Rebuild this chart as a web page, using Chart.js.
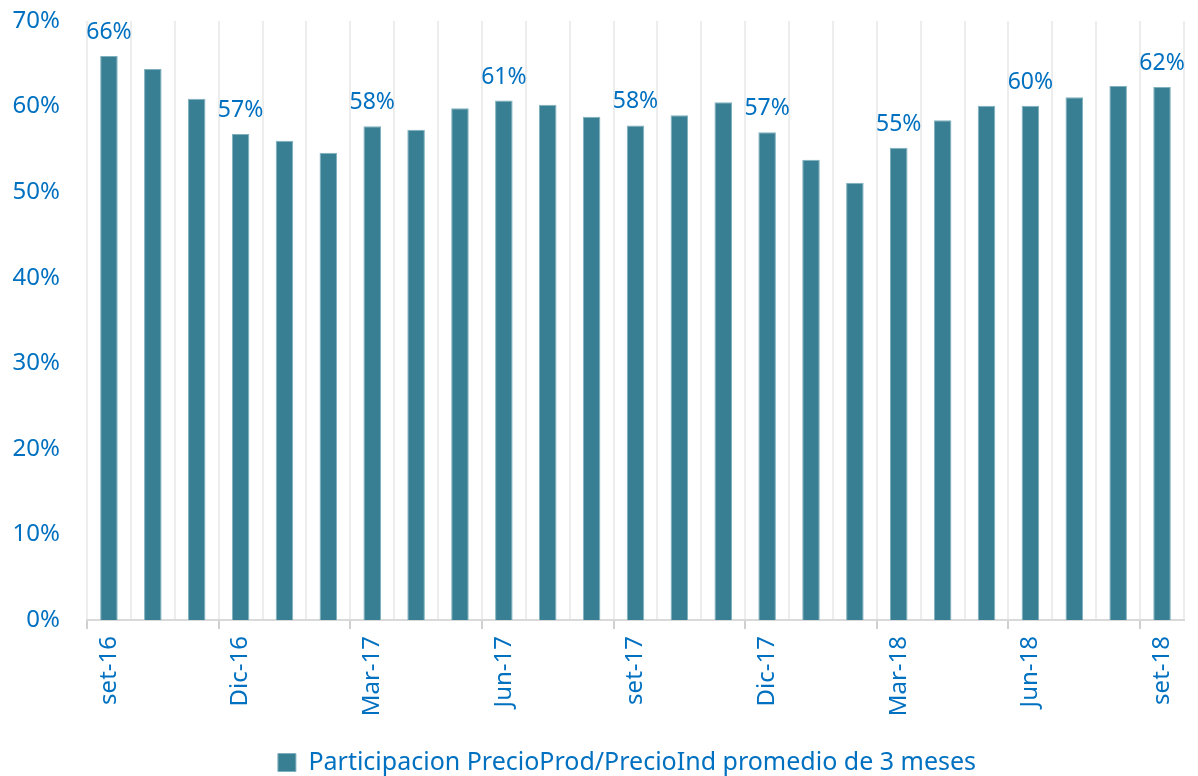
<!DOCTYPE html>
<html>
<head>
<meta charset="utf-8">
<script src="https://cdn.jsdelivr.net/npm/chart.js@4"></script>
<style>
  html, body { margin: 0; padding: 0; background: #fff; }
  #wrap { width: 1198px; height: 776px; }
</style>
</head>
<body>
<div id="wrap"><canvas id="chart"></canvas></div>
<script>
// meses (cada 3 se muestra la etiqueta)
const months = ['set-16', 'Oct-16', 'Nov-16', 'Dic-16', 'Ene-17', 'Feb-17', 'Mar-17', 'Abr-17', 'May-17',
  'Jun-17', 'Jul-17', 'Ago-17', 'set-17', 'Oct-17', 'Nov-17', 'Dic-17', 'Ene-18', 'Feb-18',
  'Mar-18', 'Abr-18', 'May-18', 'Jun-18', 'Jul-18', 'Ago-18', 'set-18'];
const participacion = [65.9, 64.4, 60.9, 56.8, 56.0, 54.6, 57.7, 57.3, 59.8,
  60.7, 60.2, 58.8, 57.8, 59.0, 60.5, 57.0, 53.8, 51.1,
  55.2, 58.4, 60.1, 60.1, 61.1, 62.4, 62.3];
const yTicks = [0, 10, 20, 30, 40, 50, 60, 70];
const seriesName = 'Participacion PrecioProd/PrecioInd promedio de 3 meses';

const blue = '#0070C0';
const barColor = '#387F93';
const font = "'Noto Sans', sans-serif";

// etiquetas de datos cada 3 barras
const labelPlugin = {
  id: 'barLabels',
  afterDatasetsDraw(chart) {
    const ctx = chart.ctx;
    const meta = chart.getDatasetMeta(0);
    ctx.save();
    ctx.font = '23px ' + font;
    ctx.fillStyle = blue;
    ctx.textAlign = 'center';
    ctx.textBaseline = 'bottom';
    meta.data.forEach((bar, i) => {
      if (i % 3 !== 0) return;
      ctx.fillText(Math.round(participacion[i]) + '%', bar.x, bar.y - 12);
    });
    ctx.restore();
  }
};

// la leyenda va un poco a la derecha, como en el original
const legendShift = {
  id: 'legendShift',
  afterLayout(chart) {
    chart.legend.left += 32;
    chart.legend.right += 32;
  }
};

new Chart(document.getElementById('chart'), {
  type: 'bar',
  data: {
    labels: months,
    datasets: [{
      label: seriesName,
      data: participacion,
      backgroundColor: barColor,
      borderColor: '#7FB0BE',
      borderWidth: 1,
      categoryPercentage: 1,
      barPercentage: 0.4
    }]
  },
  options: {
    responsive: true,
    maintainAspectRatio: false,
    animation: false,
    layout: { padding: { top: 21, right: 8, left: 0, bottom: -9 } },
    plugins: {
      legend: {
        position: 'bottom',
        labels: {
          color: blue,
          font: { family: font, size: 25 },
          boxWidth: 18,
          boxHeight: 18,
          padding: 10
        }
      },
      tooltip: { enabled: false }
    },
    scales: {
      x: {
        afterFit: (s) => { s.height = 120; },
        grid: {
          offset: true,
          color: '#EDEDED',
          lineWidth: 2,
          tickLength: 9,
          tickColor: (c) => c.index % 3 === 0 ? '#D0D0D0' : 'rgba(0,0,0,0)',
          tickWidth: 2
        },
        border: { color: '#D9D9D9', width: 2 },
        ticks: {
          color: blue,
          font: { family: font, size: 24 },
          minRotation: 90,
          maxRotation: 90,
          autoSkip: false,
          padding: 7,
          callback: (v, i) => i % 3 === 0 ? months[i] : ''
        }
      },
      y: {
        min: 0,
        max: 70,
        afterBuildTicks: (s) => { s.ticks = yTicks.map(v => ({ value: v })); },
        afterFit: (s) => { s.width = 87; s.paddingTop = 0; s.paddingBottom = 0; },
        grid: { display: false },
        border: { display: false },
        ticks: {
          color: blue,
          font: { family: font, size: 24 },
          padding: 19,
          callback: (v) => v + '%'
        }
      }
    }
  },
  plugins: [labelPlugin, legendShift]
});
</script>
</body>
</html>
